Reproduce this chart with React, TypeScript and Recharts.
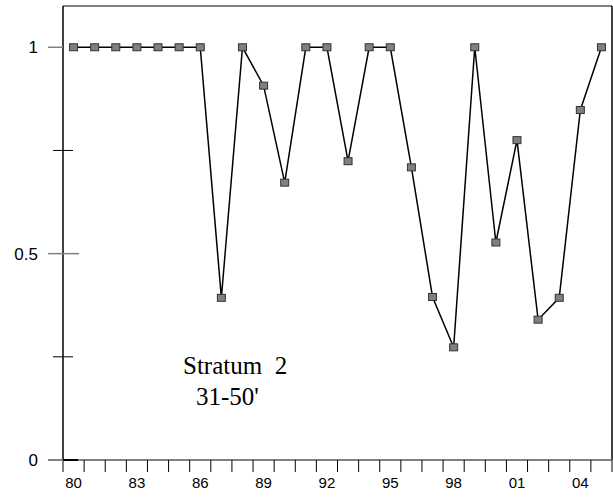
import { CartesianGrid, Customized, Line, LineChart, ReferenceLine, XAxis, YAxis } from "recharts";

const years = [
  1980, 1981, 1982, 1983, 1984, 1985, 1986, 1987, 1988, 1989, 1990, 1991, 1992,
  1993, 1994, 1995, 1996, 1997, 1998, 1999, 2000, 2001, 2002, 2003, 2004, 2005,
];
const values = [
  1, 1, 1, 1, 1, 1, 1, 0.393, 1, 0.907, 0.672, 1, 1,
  0.724, 1, 1, 0.709, 0.395, 0.273, 1, 0.527, 0.775, 0.34, 0.393, 0.848, 1,
];
const labelYears = [1980, 1983, 1986, 1989, 1992, 1995, 1998, 2001, 2004];
const yTicks = [0, 0.25, 0.5, 0.75, 1];
const yLabels: Record<number, string> = { 0: "0", 0.5: "0.5", 1: "1" };
const stratumLines = ["Stratum  2", "31-50'"];

const data = years.map((year, i) => ({ year, value: values[i] }));
const boundaries = [...years.map((y) => y - 0.5), years[years.length - 1] + 0.5];

const AXIS_GRAY = "#808080";

function XTick(props: any) {
  const { x, y, payload } = props;
  const v = payload.value as number;
  if (!Number.isInteger(v)) {
    return (
      <g>
        <line x1={x} x2={x} y1={y} y2={y + 12} stroke="#000" strokeWidth={1} />
        {v === boundaries[0] && (
          <line x1={x - 15} x2={x} y1={y} y2={y} stroke={AXIS_GRAY} strokeWidth={2} />
        )}
      </g>
    );
  }
  return (
    <text
      x={x}
      y={y + 28}
      textAnchor="middle"
      fontFamily="Liberation Sans, Arial, sans-serif"
      fontSize={15}
      fill="#000"
    >
      {String(v % 100).padStart(2, "0")}
    </text>
  );
}

function YTick(props: any) {
  const { x, y, payload } = props;
  const v = payload.value as number;
  const label = yLabels[v];
  if (label === undefined) {
    return <line x1={x - 10} x2={x + 10} y1={y} y2={y} stroke="#000" strokeWidth={1} />;
  }
  return (
    <g>
      <line x1={x - 15} x2={v === 0.5 ? x + 16 : x} y1={y} y2={y} stroke={AXIS_GRAY} strokeWidth={1.5} />
      {v === 0 && <line x1={x} x2={x + 15} y1={y} y2={y} stroke="#000" strokeWidth={2} />}
      <text
        x={x - 25}
        y={y + 6}
        textAnchor="end"
        fontFamily="Liberation Sans, Arial, sans-serif"
        fontSize={17}
        fill="#000"
      >
        {label}
      </text>
    </g>
  );
}

function Square(props: any) {
  const { cx, cy } = props;
  if (cx == null || cy == null) return null;
  return (
    <rect x={cx - 4} y={cy - 3.5} width={8} height={7} fill="#808080" stroke="#333" strokeWidth={1} />
  );
}

function Annotation() {
  return (
    <g fontFamily="Liberation Serif, Times New Roman, serif" fontSize={25} fill="#000">
      <text x={183} y={374} style={{ whiteSpace: "pre" }}>
        {stratumLines[0]}
      </text>
      <text x={196} y={405}>
        {stratumLines[1]}
      </text>
    </g>
  );
}

export default function App() {
  return (
    <div style={{ position: "absolute", left: 0, top: 0, background: "#fff" }}>
      <LineChart
        width={613}
        height={498}
        data={data}
        margin={{ top: 6, right: 1, bottom: 0, left: 0 }}
      >
        <CartesianGrid stroke="none" />
        <XAxis
          dataKey="year"
          type="number"
          domain={[boundaries[0], boundaries[boundaries.length - 1]]}
          ticks={[...boundaries, ...labelYears]}
          interval={0}
          height={38}
          tickSize={0}
          tickMargin={0}
          tickLine={false}
          axisLine={{ stroke: AXIS_GRAY, strokeWidth: 2 }}
          tick={<XTick />}
          allowDataOverflow
        />
        <YAxis
          type="number"
          domain={[0, 1.1]}
          ticks={yTicks}
          interval={0}
          width={63}
          tickSize={0}
          tickMargin={0}
          tickLine={false}
          axisLine={{ stroke: "#000", strokeWidth: 1.5 }}
          tick={<YTick />}
          allowDataOverflow
        />
        <ReferenceLine y={1.1} stroke={AXIS_GRAY} strokeWidth={2} />
        <ReferenceLine x={boundaries[boundaries.length - 1]} stroke="#000" strokeWidth={1.5} />
        <Line
          dataKey="value"
          stroke="#000"
          strokeWidth={1.5}
          dot={<Square />}
          activeDot={false}
          isAnimationActive={false}
        />
        <Customized component={Annotation} />
      </LineChart>
    </div>
  );
}
